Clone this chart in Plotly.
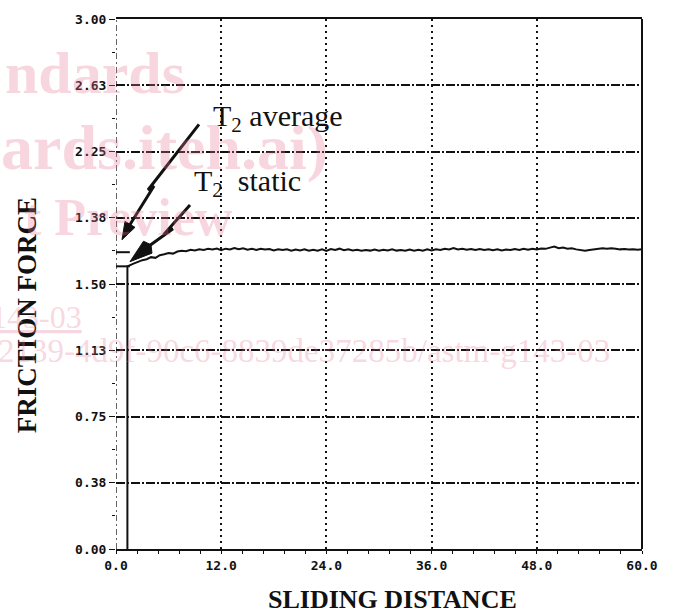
import plotly.graph_objects as go

# ---------------- data ----------------
y_tick_vals = [0.0, 0.375, 0.75, 1.125, 1.5, 1.875, 2.25, 2.625, 3.0]
y_tick_text = ["0.00", "0.38", "0.75", "1.13", "1.50", "1.38", "2.25", "2.63", "3.00"]
x_tick_vals = [0, 12, 24, 36, 48, 60]
x_tick_text = ["0.0", "12.0", "24.0", "36.0", "48.0", "60.0"]

distance = [1.3, 1.3,
            2.0, 2.5, 3.0, 3.5, 4.0, 4.5, 5.0, 5.5, 6.0, 6.5,
            7.0, 7.5, 8.0, 8.5, 9.0, 9.5, 10.0, 10.5, 11.0, 11.5,
            12.0, 12.5, 13.0, 13.5, 14.0, 14.5, 15.0, 15.5, 16.0, 16.5,
            17.0, 17.5, 18.0, 18.5, 19.0, 19.5, 20.0, 20.5, 21.0, 21.5,
            22.0, 22.5, 23.0, 23.5, 24.0, 24.5, 25.0, 25.5, 26.0, 26.5,
            27.0, 27.5, 28.0, 28.5, 29.0, 29.5, 30.0, 30.5, 31.0, 31.5,
            32.0, 32.5, 33.0, 33.5, 34.0, 34.5, 35.0, 35.5, 36.0, 36.5,
            37.0, 37.5, 38.0, 38.5, 39.0, 39.5, 40.0, 40.5, 41.0, 41.5,
            42.0, 42.5, 43.0, 43.5, 44.0, 44.5, 45.0, 45.5, 46.0, 46.5,
            47.0, 47.5, 48.0, 48.5, 49.0, 49.5, 50.0, 50.5, 51.0, 51.5,
            52.0, 52.5, 53.0, 53.5, 54.0, 54.5, 55.0, 55.5, 56.0, 56.5,
            57.0, 57.5, 58.0, 58.5, 59.0, 59.5, 60.0]

friction = [0.0, 1.60,
            1.615, 1.625, 1.635, 1.640, 1.652, 1.648, 1.663, 1.668, 1.675, 1.672,
            1.684, 1.688, 1.686, 1.694, 1.690, 1.697, 1.693, 1.699, 1.695, 1.701,
            1.692, 1.700, 1.696, 1.703, 1.697, 1.702, 1.694, 1.699, 1.693, 1.700,
            1.695, 1.698, 1.690, 1.697, 1.692, 1.696, 1.689, 1.695, 1.690, 1.697,
            1.688, 1.694, 1.689, 1.696, 1.687, 1.698, 1.693, 1.700, 1.691, 1.697,
            1.690, 1.694, 1.688, 1.693, 1.689, 1.695, 1.688, 1.694, 1.690, 1.696,
            1.689, 1.693, 1.688, 1.695, 1.689, 1.694, 1.688, 1.696, 1.690, 1.697,
            1.692, 1.699, 1.696, 1.703, 1.695, 1.700, 1.694, 1.698, 1.692, 1.698,
            1.693, 1.697, 1.691, 1.696, 1.690, 1.695, 1.692, 1.698, 1.693, 1.699,
            1.694, 1.700, 1.695, 1.701, 1.699, 1.706, 1.712, 1.703, 1.706, 1.700,
            1.702, 1.696, 1.690, 1.688, 1.692, 1.694, 1.698, 1.702, 1.699, 1.703,
            1.700, 1.696, 1.698, 1.695, 1.697, 1.694, 1.696]

t2_marker_x = [0.7, 0.7]
t2_levels = [1.68, 1.60]   # T2 average, T2 static

# ---------------- layout geometry ----------------
W, H = 673, 614
ML, MR, MT, MB = 116, 31, 16, 65
PW = W - ML - MR
PH = H - MT - MB


def px(X, Y):
    return (X - ML) / PW, (H - MB - Y) / PH


def path(points, close=False):
    s = ""
    for i, (X, Y) in enumerate(points):
        a, b = px(X, Y)
        s += ("M" if i == 0 else "L") + f"{a:.4f},{b:.4f} "
    if close:
        s += "Z"
    return s


fig = go.Figure()
fig.add_trace(go.Scatter(x=distance, y=friction, mode="lines",
                         line=dict(color="#111", width=2.0), showlegend=False,
                         hoverinfo="skip"))
fig.add_trace(go.Scatter(x=t2_marker_x, y=t2_levels, mode="markers",
                         marker=dict(symbol="line-ew", size=11,
                                     line=dict(color="#111", width=2)),
                         showlegend=False, hoverinfo="skip"))

tick_font = dict(family="DejaVu Sans Mono", size=13, color="#111", weight="bold")

fig.update_xaxes(range=[0, 60], tickmode="array", tickvals=x_tick_vals,
                 ticktext=x_tick_text, tickfont=tick_font,
                 showgrid=True, gridcolor="#111", gridwidth=1.5, griddash="2px,4px",
                 showline=True, mirror=True, linecolor="#111", linewidth=2,
                 ticks="outside", ticklen=3, tickcolor="#111",
                 minor=dict(ticks="outside", ticklen=3, dtick=2.4, tick0=0,
                            tickcolor="#111", showgrid=False),
                 zeroline=False)
fig.update_yaxes(range=[0, 3], tickmode="array", tickvals=y_tick_vals,
                 ticktext=y_tick_text, tickfont=tick_font,
                 showgrid=True, gridcolor="#111", gridwidth=1.5,
                 griddash="9px,2px,2px,2px",
                 showline=False, ticks="outside", ticklen=6, tickcolor="#111",
                 minor=dict(ticks="outside", ticklen=3, dtick=0.1875, tick0=0,
                            tickcolor="#111", showgrid=False),
                 zeroline=False)

shapes = []
# dash-dot left axis at x = 0
shapes.append(dict(type="line", xref="x", yref="paper", x0=0, x1=0, y0=0, y1=1,
                   line=dict(color="#111", width=1.3, dash="6px,3px,2px,3px")))
# right border
shapes.append(dict(type="line", xref="paper", yref="paper", x0=1, x1=1, y0=0, y1=1,
                   line=dict(color="#111", width=2)))
# T2 average arrow (zig-zag shaft + head)
shapes.append(dict(type="path", xref="paper", yref="paper",
                   path=path([(199, 122), (148, 188), (154, 184), (128, 226)]),
                   line=dict(color="#111", width=3)))
shapes.append(dict(type="path", xref="paper", yref="paper",
                   path=path([(122, 238), (135, 225.5), (125, 219.5)], close=True),
                   fillcolor="#111", line=dict(color="#111", width=1)))
# T2 static arrow
shapes.append(dict(type="path", xref="paper", yref="paper",
                   path=path([(190, 203), (167, 229), (173, 227), (148, 245)]),
                   line=dict(color="#111", width=3)))
shapes.append(dict(type="path", xref="paper", yref="paper",
                   path=path([(130, 260), (152, 251.5), (151, 243), (143.5, 239.5)], close=True),
                   fillcolor="#111", line=dict(color="#111", width=1)))

annotations = []
serif = "Liberation Serif"


def ann(text, X, Y, size, xanchor="center", yanchor="middle", color="#111",
        bold=False, angle=0):
    a, b = px(X, Y)
    annotations.append(dict(text=text, x=a, y=b, xref="paper", yref="paper",
                            showarrow=False, xanchor=xanchor, yanchor=yanchor,
                            textangle=angle,
                            font=dict(family=serif, size=size, color=color,
                                      weight="bold" if bold else "normal")))


ann("FRICTION FORCE", 27, 314, 27, bold=True, angle=-90)
ann("SLIDING DISTANCE", 392, 600, 26, bold=True)
ann("T<sub>2</sub> average", 211, 116, 30, xanchor="left")
ann("T<sub>2</sub>&nbsp;&nbsp;static", 192, 181, 30, xanchor="left")

wm = "rgba(232,120,150,0.30)"
ann("ndards", 187, 70, 60, xanchor="right", color=wm, bold=True)
ann("ards.iteh.ai)", 330, 145, 64, xanchor="right", color=wm, bold=True)
ann("t Preview", 235, 216, 52, xanchor="right", color=wm, bold=True)
ann("<u>143-03</u>", 84, 316, 32, xanchor="right", color=wm)
ann("2139-4d9f-90c6-8839de37285b/astm-g143-03", 612, 350, 33, xanchor="right", color=wm)

fig.update_layout(width=W, height=H, margin=dict(l=ML, r=MR, t=MT, b=MB),
                  paper_bgcolor="white", plot_bgcolor="white",
                  shapes=shapes, annotations=annotations, showlegend=False)

fig.write_html("out.html", config={"displayModeBar": False},
               post_script="document.body.style.margin='0px';document.body.style.padding='0px';")
